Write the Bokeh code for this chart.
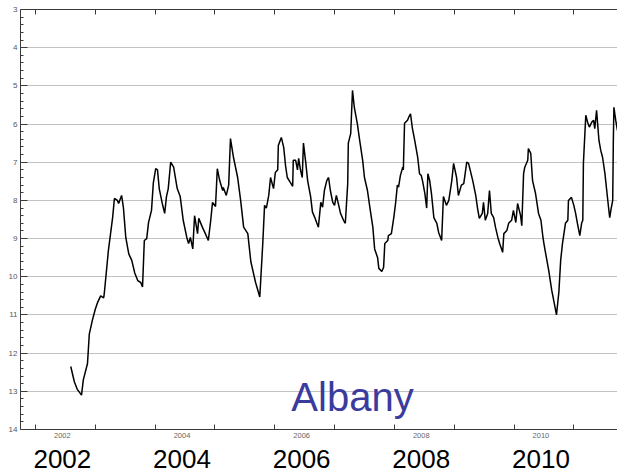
from bokeh.plotting import figure
from bokeh.models import (Range1d, LinearAxis, FixedTicker, SingleIntervalTicker,
                          CustomJSTickFormatter, Label)
from bokeh.embed import file_html
from bokeh.resources import INLINE

# Decimal year of each reading
years = [
    2002.59, 2002.65, 2002.70, 2002.77, 2002.80, 2002.87, 2002.90, 2002.95, 2003.00, 2003.04,
    2003.09, 2003.14, 2003.15, 2003.22, 2003.29, 2003.32, 2003.37, 2003.39, 2003.44, 2003.47,
    2003.51, 2003.56, 2003.61, 2003.66, 2003.71, 2003.76, 2003.79, 2003.82, 2003.86, 2003.89,
    2003.94, 2003.97, 2004.01, 2004.04, 2004.07, 2004.12, 2004.16, 2004.19, 2004.22, 2004.26,
    2004.31, 2004.37, 2004.42, 2004.47, 2004.53, 2004.56, 2004.59, 2004.63, 2004.66, 2004.71,
    2004.73, 2004.79, 2004.84, 2004.89, 2004.93, 2004.96, 2005.01, 2005.04, 2005.08, 2005.13,
    2005.14, 2005.19, 2005.23, 2005.26, 2005.31, 2005.38, 2005.43, 2005.48, 2005.55, 2005.60,
    2005.68, 2005.75, 2005.80, 2005.83, 2005.86, 2005.90, 2005.93, 2005.98, 2006.01, 2006.05,
    2006.06, 2006.11, 2006.15, 2006.18, 2006.21, 2006.26, 2006.30, 2006.31, 2006.35, 2006.38,
    2006.40, 2006.43, 2006.46, 2006.48, 2006.52, 2006.55, 2006.60, 2006.63, 2006.67, 2006.70,
    2006.73, 2006.77, 2006.80, 2006.83, 2006.87, 2006.90, 2006.93, 2006.97, 2007.00, 2007.03,
    2007.07, 2007.10, 2007.15, 2007.18, 2007.22, 2007.23, 2007.27, 2007.30, 2007.33, 2007.38,
    2007.42, 2007.47, 2007.50, 2007.55, 2007.59, 2007.64, 2007.67, 2007.72, 2007.74, 2007.79,
    2007.82, 2007.84, 2007.89, 2007.90, 2007.95, 2007.99, 2008.02, 2008.05, 2008.07, 2008.10,
    2008.14, 2008.15, 2008.17, 2008.22, 2008.24, 2008.27, 2008.30, 2008.34, 2008.39, 2008.42,
    2008.45, 2008.47, 2008.51, 2008.54, 2008.56, 2008.59, 2008.62, 2008.66, 2008.71, 2008.74,
    2008.79, 2008.82, 2008.87, 2008.91, 2008.96, 2008.99, 2009.04, 2009.07, 2009.12, 2009.16,
    2009.21, 2009.24, 2009.31, 2009.36, 2009.39, 2009.42, 2009.47, 2009.49, 2009.52, 2009.56,
    2009.59, 2009.62, 2009.66, 2009.69, 2009.73, 2009.76, 2009.81, 2009.83, 2009.88, 2009.91,
    2009.96, 2009.99, 2010.03, 2010.06, 2010.11, 2010.13, 2010.16, 2010.18, 2010.23, 2010.24,
    2010.28, 2010.31, 2010.36, 2010.41, 2010.45, 2010.48, 2010.50, 2010.53, 2010.58, 2010.63,
    2010.68, 2010.71, 2010.75, 2010.78, 2010.81, 2010.86, 2010.90, 2010.91, 2010.96, 2011.00,
    2011.03, 2011.06, 2011.10, 2011.13, 2011.15, 2011.16, 2011.20, 2011.23, 2011.26, 2011.30,
    2011.33, 2011.35, 2011.38, 2011.42, 2011.45, 2011.48, 2011.52, 2011.55, 2011.58, 2011.60,
    2011.62, 2011.65, 2011.66, 2011.67, 2011.70, 2011.73,
]

# Depth reading at each date
depth = [
    12.35, 12.75, 12.95, 13.10, 12.70, 12.27, 11.50, 11.15, 10.85, 10.67,
    10.50, 10.55, 10.45, 9.30, 8.45, 7.95, 8.00, 8.08, 7.87, 8.18,
    8.97, 9.40, 9.57, 9.90, 10.10, 10.15, 10.27, 9.05, 9.00, 8.58,
    8.26, 7.55, 7.17, 7.20, 7.70, 8.08, 8.34, 7.90, 7.69, 7.00,
    7.13, 7.69, 7.90, 8.52, 8.97, 9.13, 8.97, 9.27, 8.40, 8.87,
    8.47, 8.70, 8.87, 9.05, 8.52, 8.05, 8.16, 7.17, 7.48, 7.74,
    7.66, 7.87, 7.60, 6.38, 6.87, 7.40, 8.00, 8.70, 8.87, 9.60,
    10.15, 10.53, 9.13, 8.13, 8.20, 7.87, 7.40, 7.69, 7.27, 7.20,
    6.56, 6.35, 6.61, 7.08, 7.40, 7.53, 7.63, 6.95, 6.95, 7.20,
    6.90, 7.20, 7.40, 6.50, 7.03, 7.48, 7.90, 8.30, 8.45, 8.58,
    8.70, 8.05, 8.18, 7.74, 7.48, 7.40, 7.74, 8.05, 8.13, 7.87,
    8.13, 8.34, 8.52, 8.60, 7.56, 6.50, 6.25, 5.12, 5.56, 5.98,
    6.43, 6.95, 7.40, 7.74, 8.18, 8.70, 9.27, 9.50, 9.78, 9.86,
    9.75, 9.13, 9.05, 8.92, 8.87, 8.45, 8.08, 7.60, 7.65, 7.35,
    7.13, 7.20, 5.98, 5.90, 5.82, 5.73, 6.10, 6.43, 6.87, 7.30,
    7.35, 7.48, 7.82, 8.20, 7.30, 7.48, 7.82, 8.45, 8.60, 8.84,
    9.05, 7.90, 8.13, 8.00, 7.48, 7.03, 7.40, 7.87, 7.60, 7.56,
    7.00, 7.03, 7.48, 7.87, 8.20, 8.47, 8.34, 8.05, 8.52, 8.34,
    7.74, 8.34, 8.45, 8.70, 8.97, 9.13, 9.36, 8.87, 8.79, 8.60,
    8.52, 8.26, 8.58, 8.08, 8.40, 8.66, 7.30, 7.13, 6.95, 6.64,
    6.77, 7.48, 7.82, 8.34, 8.52, 8.92, 9.13, 9.40, 9.83, 10.35,
    10.75, 11.00, 10.40, 9.57, 9.13, 8.60, 8.52, 8.00, 7.92, 8.13,
    8.34, 8.60, 8.92, 8.60, 8.52, 7.03, 5.77, 5.95, 6.08, 5.95,
    5.90, 6.12, 5.64, 6.43, 6.69, 6.87, 7.30, 7.74, 8.18, 8.45,
    8.25, 8.00, 6.47, 5.56, 5.90, 6.17,
]

year_bounds = list(range(2002, 2012))          # tick marks at year starts
label_years = [2002, 2004, 2006, 2008, 2010]   # labelled years
label_pos = [y + 0.45 for y in label_years]    # labels sit inside each year
station = "Albany"

FONT = "Liberation Sans"
AX = "#3a3a3a"

p = figure(width=617, height=472, output_backend="svg", toolbar_location=None,
           x_range=Range1d(2001.75, 2011.73), y_range=Range1d(14, 3),
           min_border_left=20, min_border_right=0, min_border_top=9, min_border_bottom=43,
           background_fill_color="white", border_fill_color="white")
p.outline_line_color = None
p.xgrid.visible = False

# left axis
yax = p.yaxis[0]
yax.ticker = SingleIntervalTicker(interval=1, num_minor_ticks=5)
yax.axis_line_color = AX
yax.major_tick_line_color = AX
yax.minor_tick_line_color = AX
yax.major_tick_in = 7
yax.major_tick_out = 0
yax.minor_tick_in = 3
yax.minor_tick_out = 0
yax.major_label_text_font_size = "8px"
yax.major_label_text_color = "#555566"
yax.major_label_text_font = FONT
yax.major_label_standoff = 3

p.ygrid.grid_line_color = "#c2c2c2"
p.ygrid.grid_line_width = 1.2

# bottom axis (small labels, year ticks)
fmt = CustomJSTickFormatter(code="return Math.floor(tick + 0.01).toString();")
xax = p.xaxis[0]
xax.ticker = FixedTicker(ticks=label_pos, minor_ticks=year_bounds)
xax.formatter = fmt
xax.axis_line_color = AX
xax.major_tick_line_color = None
xax.major_tick_in = 0
xax.major_tick_out = 0
xax.minor_tick_line_color = AX
xax.minor_tick_in = 5
xax.minor_tick_out = 0
xax.major_label_text_font_size = "7.5px"
xax.major_label_text_color = "#666666"
xax.major_label_text_font = FONT
xax.major_label_standoff = 3

# second bottom axis with large year labels
big = LinearAxis(ticker=FixedTicker(ticks=label_pos), formatter=fmt,
                 axis_line_color=None, major_tick_line_color=None,
                 minor_tick_line_color=None, major_tick_in=0, major_tick_out=0,
                 major_label_text_font_size="26px", major_label_text_color="black",
                 major_label_text_font=FONT, major_label_standoff=9)
p.add_layout(big, "below")

# top frame with ticks
top = LinearAxis(ticker=FixedTicker(ticks=year_bounds),
                 formatter=CustomJSTickFormatter(code="return '';"),
                 axis_line_color=AX, major_tick_line_color=AX,
                 minor_tick_line_color=None, major_tick_in=5, major_tick_out=0,
                 major_label_text_font_size="0px", major_label_standoff=0)
p.add_layout(top, "above")

p.line(years, depth, line_color="black", line_width=1.5)

p.add_layout(Label(x=2007.30, y=13.16, text=station, text_font=FONT,
                   text_font_size="40px", text_color="#3b3b9e",
                   text_align="center", text_baseline="middle"))

open("out.html", "w").write(file_html(p, INLINE))
